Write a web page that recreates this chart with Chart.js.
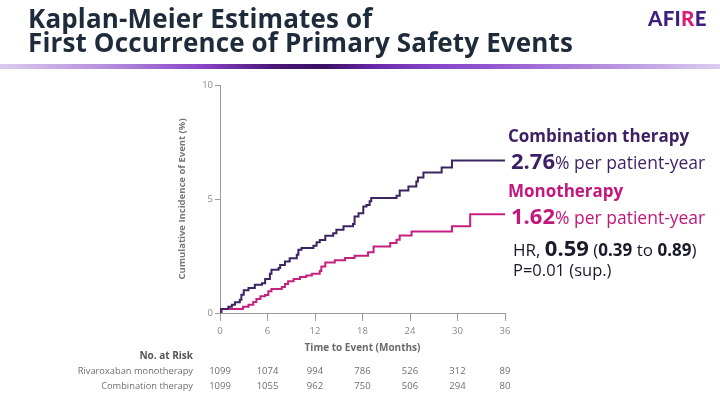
<!DOCTYPE html>
<html>
<head>
<meta charset="utf-8">
<script src="https://cdn.jsdelivr.net/npm/chart.js@4"></script>
<style>
  html,body{margin:0;padding:0;background:#fff;}
  #wrap{position:relative;width:720px;height:405px;overflow:hidden;background:#fff;font-family:"Open Sans",sans-serif;}
  #c{position:absolute;left:0;top:0;}
  .t{position:absolute;white-space:nowrap;}
  #title{left:28px;top:6px;font-size:26px;line-height:24px;font-weight:700;color:#1e2b3b;letter-spacing:0.15px;}
  #bar{position:absolute;left:0;top:64px;width:720px;height:5px;
    background:linear-gradient(to right,#dccbee 0%,#b48ddc 15%,#8a44c8 28%,#4a1678 38%,#3a0f62 45%,#6a28aa 52%,#8644c8 60%,#9456d0 68%,#b692e0 85%,#dccdf0 100%);}
  #logo{left:648px;top:6px;font-family:Lato,"Open Sans",sans-serif;font-weight:900;font-size:20.5px;color:#3f1f7e;letter-spacing:0.3px;}
  #logo span{color:#d81c78;}
  .lab{font-weight:700;font-size:17px;}
  .big{font-weight:700;font-size:22px;}
  .reg{font-size:17.5px;}
</style>
</head>
<body>
<div id="wrap">
  <canvas id="c" width="720" height="405"></canvas>
  <div id="title" class="t">Kaplan-Meier Estimates of<br>First Occurrence of Primary Safety Events</div>
  <div id="bar"></div>
  <div id="logo" class="t">AFI<span>R</span>E</div>
  <div class="t lab" style="left:508px;top:124px;color:#3d1f63;">Combination therapy</div>
  <div class="t" style="left:511px;top:145px;color:#3d1f63;"><span class="big">2.76</span><span class="reg">% per patient-year</span></div>
  <div class="t lab" style="left:508px;top:179px;color:#c2177c;">Monotherapy</div>
  <div class="t" style="left:511px;top:200px;color:#c2177c;"><span class="big">1.62</span><span class="reg">% per patient-year</span></div>
  <div class="t" style="left:513px;top:232px;color:#1a1a2a;font-size:17px;">HR, <span style="font-weight:700;font-size:22px;">0.59</span> (<b>0.39</b> to <b>0.89</b>)</div>
  <div class="t" style="left:513px;top:258px;color:#1a1a2a;font-size:16.5px;">P=0.01 (sup.)</div>
</div>
<script>
// ---- data ----
const comboMonths = [0, 0.1, 1.05, 1.5, 1.9, 2.5, 2.7, 3.0, 3.6, 4.4, 5.3, 5.7, 6.3, 6.5, 7.4, 7.6, 8.2, 8.8, 9.7, 9.9, 10.3, 11.8, 12.2, 12.6, 13.3, 14.3, 14.7, 15.6, 16.8, 17.0, 17.5, 18.1, 18.5, 18.9, 19.1, 22.3, 22.7, 23.8, 24.8, 25.0, 25.7, 28.0, 29.3, 36];
const comboValues = [0, 0.18, 0.27, 0.36, 0.47, 0.58, 0.80, 1.00, 1.10, 1.24, 1.31, 1.49, 1.72, 1.90, 1.97, 2.10, 2.26, 2.40, 2.55, 2.77, 2.85, 2.95, 3.10, 3.20, 3.39, 3.50, 3.65, 3.80, 3.90, 4.23, 4.38, 4.67, 4.74, 4.90, 5.04, 5.14, 5.37, 5.55, 5.77, 5.94, 6.16, 6.38, 6.69, 6.69];
const monoMonths = [0, 0.2, 2.9, 3.6, 4.2, 4.6, 5.1, 5.7, 6.1, 6.5, 7.8, 8.2, 8.6, 9.3, 10.1, 10.9, 11.6, 12.6, 12.8, 13.3, 14.5, 15.8, 17.0, 18.7, 19.4, 21.5, 22.3, 22.7, 24.2, 29.3, 31.6, 36];
const monoValues = [0, 0.18, 0.27, 0.36, 0.48, 0.61, 0.73, 0.79, 0.95, 1.05, 1.14, 1.27, 1.39, 1.49, 1.58, 1.65, 1.72, 1.84, 2.04, 2.22, 2.31, 2.41, 2.51, 2.66, 2.92, 3.07, 3.21, 3.40, 3.58, 3.80, 4.33, 4.33];
const xTicks = [0, 6, 12, 18, 24, 30, 36];
const yTicks = [0, 5, 10];
const riskLabels = ["Rivaroxaban monotherapy", "Combination therapy"];
const riskMono = [1099, 1074, 994, 786, 526, 312, 89];
const riskCombo = [1099, 1055, 962, 750, 506, 294, 80];

const toPts = (xs, ys) => xs.map((x, i) => ({x: x, y: ys[i]}));
const tickFont = {family: "Open Sans", size: 9.5};
const grey = '#9b9b9b';

const riskPlugin = {
  id: 'risk',
  afterDraw(chart) {
    const ctx = chart.ctx;
    const xs = chart.scales.x;
    ctx.save();
    ctx.textBaseline = 'middle';
    ctx.textAlign = 'right';
    ctx.fillStyle = '#555';
    ctx.font = 'bold 10px "Open Sans"';
    ctx.fillText('No. at Risk', 193, 356);
    ctx.font = '9.3px "Open Sans"';
    ctx.fillStyle = '#6e6e6e';
    ctx.fillText(riskLabels[0], 193, 371.5);
    ctx.fillText(riskLabels[1], 193, 386.5);
    ctx.font = '9.5px "Open Sans"';
    ctx.textAlign = 'center';
    xTicks.forEach((m, i) => {
      const px = xs.getPixelForValue(m);
      ctx.fillText(String(riskMono[i]), px, 371.5);
      ctx.fillText(String(riskCombo[i]), px, 386.5);
    });
    ctx.restore();
  }
};

new Chart(document.getElementById('c'), {
  type: 'line',
  data: {
    datasets: [
      {label: 'Combination therapy', data: toPts(comboMonths, comboValues), borderColor: '#3b2461', borderWidth: 2, stepped: true, pointRadius: 0, fill: false},
      {label: 'Monotherapy', data: toPts(monoMonths, monoValues), borderColor: '#c51f7f', borderWidth: 2, stepped: true, pointRadius: 0, fill: false}
    ]
  },
  options: {
    responsive: false,
    animation: false,
    devicePixelRatio: 1,
    layout: {padding: {left: 170, right: 215, top: 85, bottom: 51}},
    plugins: {legend: {display: false}, tooltip: {enabled: false}},
    scales: {
      x: {
        type: 'linear', min: 0, max: 36,
        afterBuildTicks: s => { s.ticks = xTicks.map(v => ({value: v})); },
        afterFit: s => { s.height = 41; },
        ticks: {font: tickFont, color: '#8a8a8a', padding: 5, maxRotation: 0},
        grid: {display: true, drawOnChartArea: false, drawTicks: true, tickLength: 8, color: grey, lineWidth: 1},
        border: {display: true, color: grey, width: 1},
        title: {display: true, text: 'Time to Event (Months)', color: '#6a6a6a', font: {family: 'Open Sans', size: 10, weight: 'bold'}, padding: {top: 0, bottom: 0}}
      },
      y: {
        min: 0, max: 10,
        afterBuildTicks: s => { s.ticks = yTicks.map(v => ({value: v})); },
        afterFit: s => { s.width = 50; },
        ticks: {font: tickFont, color: '#8a8a8a', padding: 2},
        grid: {display: true, drawOnChartArea: false, drawTicks: true, tickLength: 5, color: grey, lineWidth: 1},
        border: {display: true, color: grey, width: 1},
        title: {display: true, text: 'Cumulative Incidence of Event (%)', color: '#777', font: {family: 'Open Sans', size: 9.5, weight: 'bold'}, padding: {top: 7, bottom: 0}}
      }
    }
  },
  plugins: [riskPlugin]
});
</script>
</body>
</html>
